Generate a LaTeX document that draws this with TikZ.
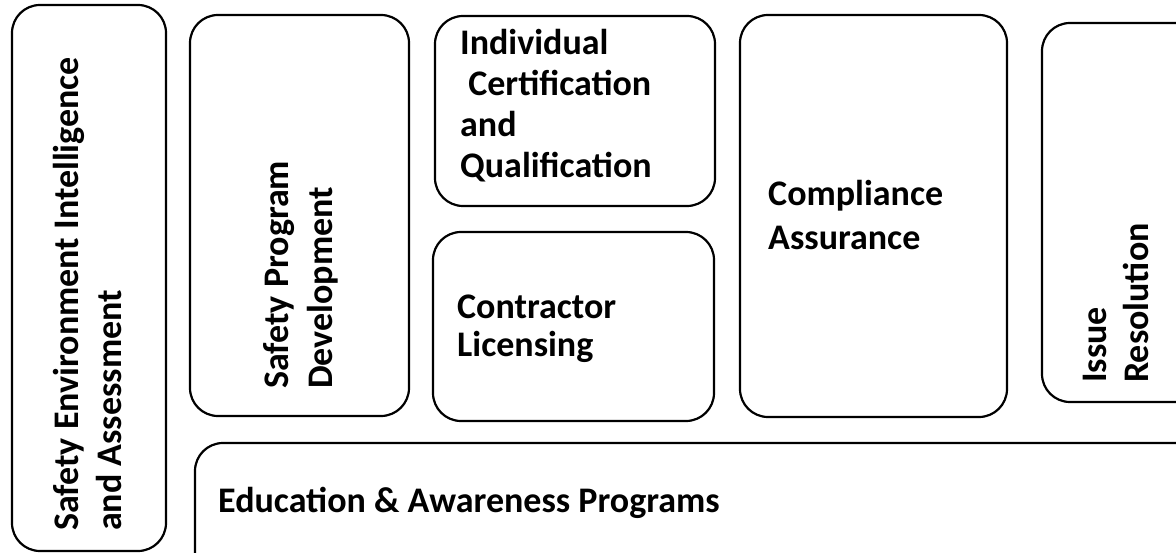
\documentclass[tikz,border=0pt]{standalone}
\usepackage{fontspec}
\setmainfont{Carlito}
\usetikzlibrary{positioning}

\begin{document}
\begin{tikzpicture}[x=1pt, y=-1pt,
  blk/.style={draw=black, line width=2.2pt, rounded corners=28pt, inner sep=0pt},
  txt/.style={font=\fontsize{36}{#1}\selectfont\bfseries, align=left, inner sep=0pt, anchor=north west},
  txt/.default=42,
]
\useasboundingbox (0,0) rectangle (1176,553);
% boxes
\node[blk, minimum width=154pt, minimum height=546pt] (envbox) at (89,278) {};
\node[blk, minimum width=219pt, minimum height=401pt] (progbox) at (299.5,215.5) {};
\node[blk, minimum width=280pt, minimum height=190pt] (certbox) at (575,111) {};
\node[blk, minimum width=281pt, minimum height=189pt] (licbox) at (573.5,326.5) {};
\node[blk, minimum width=267pt, minimum height=402pt] (compbox) at (873.5,216) {};
\node[blk, minimum width=198pt, minimum height=379pt] (issuebox) at (1141,212.5) {};
\node[blk, minimum width=1045pt, minimum height=157pt] (edubox) at (717.5,521.5) {};
% labels
\node[txt=43, rotate=90] (envlbl) at (53,531) {Safety Environment Intelligence\\and Assessment};
\node[txt=44, rotate=90] (proglbl) at (263,389) {Safety Program\\Development};
\node[txt=41] (certlbl) at (460,29) {Individual\\~Certification\\and\\Qualification};
\node[txt=38] (liclbl) at (457,295) {Contractor\\Licensing};
\node[txt=44] (complbl) at (768,180) {Compliance\\Assurance};
\node[txt, rotate=90] (issuelbl) at (1083,383) {Issue\\Resolution};
\node[txt] (edulbl) at (218,487) {Education \& Awareness Programs};
\end{tikzpicture}
\end{document}
